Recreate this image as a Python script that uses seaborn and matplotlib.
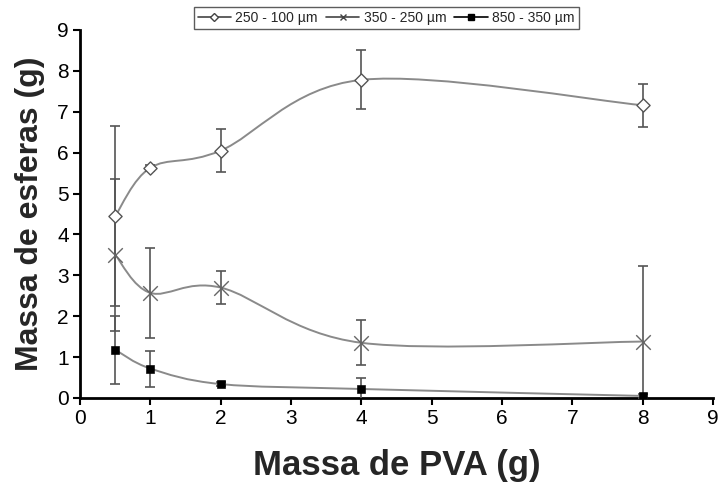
import numpy as np
import pandas as pd
import matplotlib
matplotlib.use("Agg")
import matplotlib.pyplot as plt
import seaborn as sns
from matplotlib.path import Path
from matplotlib.patches import PathPatch
from matplotlib.lines import Line2D

# data
pva = [0.5, 1, 2, 4, 8]
labels = ["250 - 100 µm", "350 - 250 µm", "850 - 350 µm"]
y_small = [4.45, 5.63, 6.05, 7.78, 7.16]
err_small = [2.2, 0.08, 0.52, 0.72, 0.53]
y_mid = [3.5, 2.57, 2.7, 1.35, 1.38]
err_mid = [1.85, 1.1, 0.4, 0.55, 1.85]
y_big = [1.18, 0.72, 0.34, 0.22, 0.05]
err_big = [0.83, 0.44, 0.05, 0.27, 0.04]

series = [y_small, y_mid, y_big]
errors = [err_small, err_mid, err_big]

df = pd.DataFrame({
    "pva": pva * 3,
    "massa": y_small + y_mid + y_big,
    "serie": [l for l in labels for _ in pva],
})

sns.set_style("ticks")
plt.rcParams['font.family'] = ['Liberation Sans', 'DejaVu Sans']

fig = plt.figure(figsize=(7.23, 4.9), dpi=100)
ax = fig.add_axes([0.1107, 0.1878, 0.8753, 0.751])


def smooth_path(xs, ys):
    # Excel-style smoothed line: cubic bezier segments through the points
    pts = np.column_stack([xs, ys])
    n = len(pts)
    verts = [pts[0]]
    codes = [Path.MOVETO]
    for i in range(n - 1):
        p0 = pts[max(i - 1, 0)]
        p1 = pts[i]
        p2 = pts[i + 1]
        p3 = pts[min(i + 2, n - 1)]
        c1 = p1 + (p2 - p0) / 6
        c2 = p2 - (p3 - p1) / 6
        verts += [c1, c2, p2]
        codes += [Path.CURVE4] * 3
    return Path(verts, codes)


line_col = "#8a8a8a"
for ys in series:
    ax.add_patch(PathPatch(smooth_path(pva, ys), facecolor="none",
                           edgecolor=line_col, lw=1.4, zorder=2))

for ys, es in zip(series, errors):
    ax.errorbar(pva, ys, yerr=es, fmt="none", ecolor="#555555",
                elinewidth=1.2, capsize=3.5, capthick=1.2, zorder=3)

# markers
sub = df[df["serie"] == labels[0]]
sns.scatterplot(data=sub, x="pva", y="massa", marker="D", s=45,
                facecolor="white", edgecolor="#555555", linewidth=1.0,
                ax=ax, zorder=4, legend=False)
sub = df[df["serie"] == labels[1]]
ax.scatter(sub["pva"], sub["massa"], marker="x", s=110, color="#666666",
           linewidths=1.0, zorder=4)
sub = df[df["serie"] == labels[2]]
sns.scatterplot(data=sub, x="pva", y="massa", marker="s", s=30,
                color="black", edgecolor="black", ax=ax, zorder=4, legend=False)

ax.set_xlim(0, 9)
ax.set_ylim(0, 9)
ax.set_xticks(range(10))
ax.set_yticks(range(10))
ax.tick_params(axis="both", labelsize=15, width=1.5, length=5,
               color="black", labelcolor="black", pad=3)
for s in ["top", "right"]:
    ax.spines[s].set_visible(False)
for s in ["left", "bottom"]:
    ax.spines[s].set_linewidth(2)
    ax.spines[s].set_color("black")

ax.set_xlabel("Massa de PVA (g)", fontsize=25, fontweight="bold", labelpad=15)
ax.set_ylabel("Massa de esferas (g)", fontsize=23, fontweight="bold", labelpad=9)

handles = [
    Line2D([], [], color="#444444", lw=1.2, marker="D", markersize=4,
           markerfacecolor="white", markeredgecolor="#444444"),
    Line2D([], [], color="#444444", lw=1.2, marker="x", markersize=4),
    Line2D([], [], color="black", lw=1.2, marker="s", markersize=4),
]
leg = fig.legend(handles, labels, loc="upper center", bbox_to_anchor=(0.534, 1.0),
                 ncol=3, fontsize=10, frameon=True, fancybox=False,
                 handlelength=2.4, handletextpad=0.3, columnspacing=0.6,
                 borderpad=0.3)
leg.get_frame().set_edgecolor("#333333")
leg.get_frame().set_linewidth(1.0)

fig.savefig("out.png", dpi=100)
